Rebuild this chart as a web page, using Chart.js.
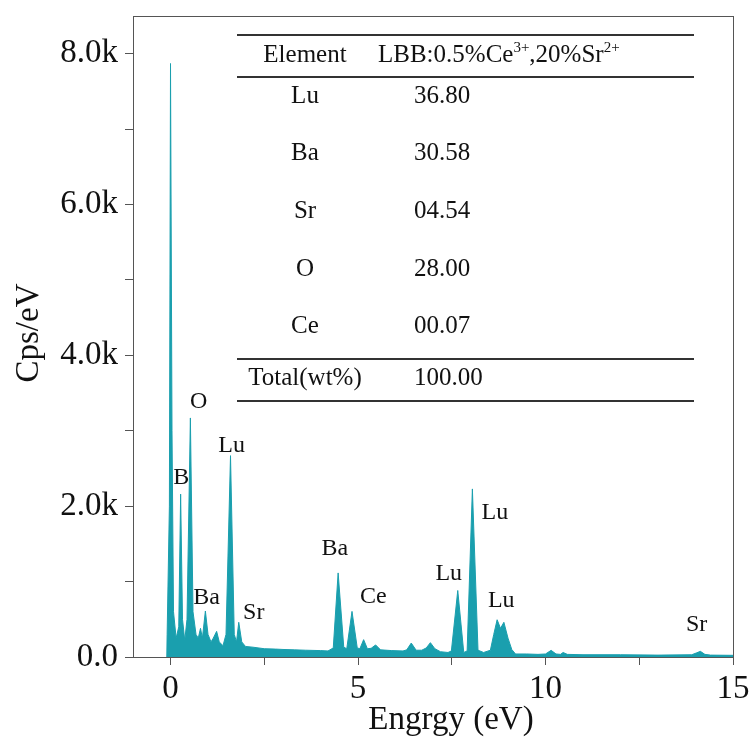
<!DOCTYPE html>
<html>
<head>
<meta charset="utf-8">
<script src="https://cdn.jsdelivr.net/npm/chart.js@4.4.1/dist/chart.umd.min.js"></script>
<style>
  body { margin: 0; background: #fff; }
  #wrap { width: 754px; height: 743px; }
</style>
</head>
<body>
<div id="wrap"><canvas id="myChart"></canvas></div>
<script>
// EDS spectrum (energy as labelled "eV")
const energy = [-0.1, -0.09, -0.03, 0.0, 0.04, 0.08, 0.15, 0.22, 0.27, 0.32, 0.38, 0.44, 0.53, 0.6, 0.68, 0.74, 0.8, 0.85, 0.93, 1.0,
  1.08, 1.14, 1.23, 1.3, 1.4, 1.48, 1.6, 1.7, 1.76, 1.82, 1.9, 2.0, 2.2, 2.5, 2.8, 3.0, 3.3, 3.6, 4.0, 4.2,
  4.34, 4.47, 4.62, 4.7, 4.84, 4.98, 5.05, 5.15, 5.25, 5.35, 5.47, 5.6, 5.9, 6.2, 6.3, 6.42, 6.55, 6.7, 6.82, 6.93,
  7.05, 7.2, 7.4, 7.49, 7.66, 7.82, 7.91, 8.05, 8.2, 8.35, 8.53, 8.62, 8.71, 8.8, 8.89, 9.0, 9.1, 9.2, 9.5, 9.8,
  10.0, 10.15, 10.28, 10.4, 10.47, 10.58, 11.0, 12.0, 13.0, 13.9, 14.03, 14.13, 14.25, 14.4, 15.0];
const counts = [0, 300, 2000, 7870, 3000, 600, 250, 400, 2160, 500, 220, 500, 3170, 600, 300, 250, 380, 250, 610, 300,
  200, 250, 340, 200, 150, 300, 2670, 300, 200, 460, 200, 140, 130, 110, 105, 100, 95, 90, 85, 80,
  120, 1115, 130, 110, 605, 120, 110, 230, 110, 115, 160, 95, 85, 80, 95, 185, 90, 90, 120, 190,
  110, 70, 60, 80, 882, 60, 80, 2229, 90, 60, 90, 300, 494, 380, 460, 250, 100, 40, 40, 35,
  40, 88, 40, 35, 60, 35, 30, 30, 25, 30, 55, 75, 35, 25, 22];

// peak annotations: text, energy, counts (anchor = text centre)
const peakText = ['O', 'B', 'Lu', 'Ba', 'Sr', 'Ba', 'Ce', 'Lu', 'Lu', 'Lu', 'Sr'];
const peakE = [0.75, 0.29, 1.63, 0.96, 2.22, 4.38, 5.41, 7.42, 8.65, 8.82, 14.03];
const peakC = [3385, 2379, 2799, 781, 583, 1430, 795, 1103, 1915, 750, 428];

// inset table
const elements = ['Lu', 'Ba', 'Sr', 'O', 'Ce'];
const wtPercent = ['36.80', '30.58', '04.54', '28.00', '00.07'];
const totalWt = '100.00';

// tick marks (all) and labelled ticks
const yTickMarks = [0, 1000, 2000, 3000, 4000, 5000, 6000, 7000, 8000];
const yTicks = [0, 2000, 4000, 6000, 8000];
const xTickMarks = [0, 2.5, 5, 7.5, 10, 12.5, 15];
const xTicks = [0, 5, 10, 15];

const serif = '"Liberation Serif", "Times New Roman", serif';
const teal = '#1a9fae';

const points = energy.map((e, i) => ({ x: e, y: counts[i] }));

const extras = {
  id: 'extras',
  afterDraw(chart) {
    const ctx = chart.ctx;
    const a = chart.chartArea;
    const xs = chart.scales.x, ys = chart.scales.y;
    ctx.save();
    // frame
    ctx.strokeStyle = '#555';
    ctx.lineWidth = 1;
    ctx.strokeRect(a.left + 0.5, a.top + 0.5, a.right - a.left, a.bottom - a.top);

    // peak labels
    ctx.fillStyle = '#111';
    ctx.font = '24px ' + serif;
    ctx.textAlign = 'center';
    ctx.textBaseline = 'middle';
    peakText.forEach((t, i) => {
      ctx.fillText(t, xs.getPixelForValue(peakE[i]), ys.getPixelForValue(peakC[i]));
    });

    // axis titles
    ctx.font = '33px ' + serif;
    ctx.textBaseline = 'alphabetic';
    ctx.fillText('Engrgy (eV)', 451, 729);
    ctx.save();
    ctx.translate(38, 333);
    ctx.rotate(-Math.PI / 2);
    ctx.fillText('Cps/eV', 0, 0);
    ctx.restore();

    // table
    ctx.strokeStyle = '#333';
    ctx.lineWidth = 2;
    [35, 77, 359, 401].forEach(y => {
      ctx.beginPath();
      ctx.moveTo(237, y);
      ctx.lineTo(694, y);
      ctx.stroke();
    });
    ctx.font = '25px ' + serif;
    ctx.textBaseline = 'middle';
    ctx.textAlign = 'center';
    ctx.fillText('Element', 305, 55);
    // header with superscripts
    ctx.textAlign = 'left';
    let hx = 378;
    const seg = (txt, size, dy) => {
      ctx.font = size + 'px ' + serif;
      ctx.fillText(txt, hx, 55 + dy);
      hx += ctx.measureText(txt).width;
    };
    seg('LBB:0.5%Ce', 25, 0);
    seg('3+', 15, -7);
    seg(',20%Sr', 25, 0);
    seg('2+', 15, -7);

    ctx.font = '25px ' + serif;
    const rowY = [96, 153, 211, 269, 326];
    elements.forEach((el, i) => {
      ctx.textAlign = 'center';
      ctx.fillText(el, 305, rowY[i]);
      ctx.textAlign = 'left';
      ctx.fillText(wtPercent[i], 414, rowY[i]);
    });
    ctx.textAlign = 'center';
    ctx.fillText('Total(wt%)', 305, 378);
    ctx.textAlign = 'left';
    ctx.fillText(totalWt, 414, 378);
    ctx.restore();
  }
};

const ctx = document.getElementById('myChart').getContext('2d');
const myChart = new Chart(ctx, {
  type: 'line',
  data: {
    datasets: [{
      data: points,
      borderColor: teal,
      backgroundColor: teal,
      borderWidth: 1,
      pointRadius: 0,
      tension: 0,
      fill: 'origin'
    }]
  },
  options: {
    responsive: true,
    maintainAspectRatio: false,
    animation: false,
    layout: { padding: { left: 0, right: 21, top: 16, bottom: 0 } },
    plugins: { legend: { display: false }, tooltip: { enabled: false } },
    scales: {
      x: {
        type: 'linear',
        min: -1,
        max: 15,
        grid: { drawOnChartArea: false, tickLength: 8, color: '#555' },
        border: { color: '#555' },
        afterBuildTicks: s => { s.ticks = xTickMarks.map(v => ({ value: v })); },
        ticks: {
          autoSkip: false,
          maxRotation: 0,
          padding: 5,
          color: '#111',
          font: { family: serif, size: 33 },
          callback: v => xTicks.includes(v) ? String(v) : ''
        },
        afterFit: s => { s.height = 86; s.paddingLeft = 0; s.paddingRight = 0; }
      },
      y: {
        min: 0,
        max: 8500,
        grid: { drawOnChartArea: false, tickLength: 8, color: '#555' },
        border: { color: '#555' },
        afterBuildTicks: s => { s.ticks = yTickMarks.map(v => ({ value: v })); },
        ticks: {
          autoSkip: false,
          padding: 7,
          color: '#111',
          font: { family: serif, size: 33 },
          callback: v => yTicks.includes(v) ? (v === 0 ? '0.0' : (v / 1000).toFixed(1) + 'k') : ''
        },
        afterFit: s => { s.width = 133; s.paddingTop = 0; s.paddingBottom = 0; }
      }
    }
  },
  plugins: [extras]
});
</script>
</body>
</html>
